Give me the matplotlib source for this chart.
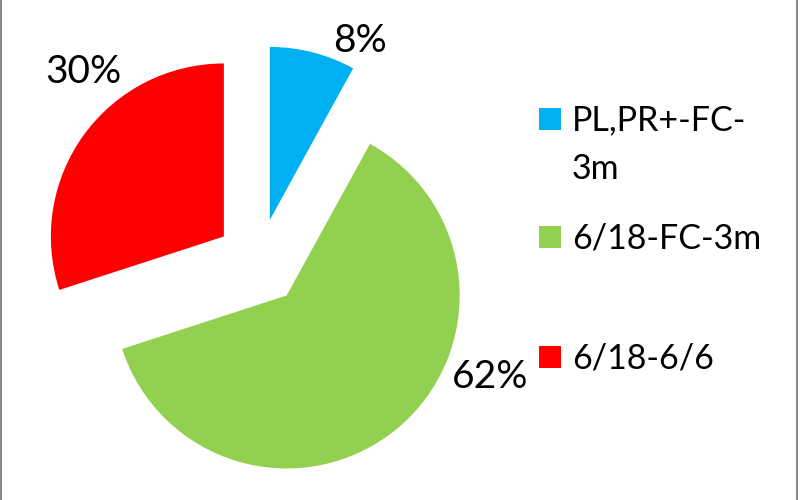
import matplotlib.pyplot as plt
from matplotlib.patches import Rectangle
from matplotlib.lines import Line2D

plt.rcParams['font.family'] = ['Lato', 'DejaVu Sans']

# данные
labels = ['PL,PR+-FC-\n3m', '6/18-FC-3m', '6/18-6/6']
shares = [8, 62, 30]
colors = ['#00B0F0', '#92D050', '#FF0000']

W, H = 800, 500
R = 173.0          # радиус в пикселях
cx, cy = 259, 262  # центр пирога (пиксели, от верхнего края)

fig = plt.figure(figsize=(8, 5), dpi=100)
ax = fig.add_axes([0, 0, 1, 1])
wedges, _ = ax.pie(shares, colors=colors, startangle=90, counterclock=False,
                   explode=[0.251] * 3, radius=1.0,
                   wedgeprops=dict(linewidth=0))
ax.set_xlim(-cx / R, (W - cx) / R)
ax.set_ylim(-(H - cy) / R, cy / R)
ax.set_aspect('equal')
ax.axis('off')

# подписи процентов (положения подобраны вручную)
label_pos = [(0.584, 1.214), (1.335, -0.728), (-1.017, 1.035)]
for s, (x, y) in zip(shares, label_pos):
    ax.text(x, y, f'{s}%', ha='center', va='baseline', fontsize=28)

# легенда вручную
legend_baseline = [130, 248, 368]
for lab, col, base in zip(labels, colors, legend_baseline):
    fig.add_artist(Rectangle((539 / W, 1 - (base) / H), 22 / W, 22 / H,
                             transform=fig.transFigure, color=col, lw=0))
    lines = lab.split('\n')
    for i, line in enumerate(lines):
        fig.text(572 / W, 1 - (base + 49 * i) / H, line, ha='left',
                 va='baseline', fontsize=24.5)

# серая рамка слева и справа
for xb in [1, 797]:
    fig.add_artist(Line2D([xb / W, xb / W], [0, 1], transform=fig.transFigure,
                          color='#888888', lw=1.5))

fig.savefig('out.png', dpi=100)
